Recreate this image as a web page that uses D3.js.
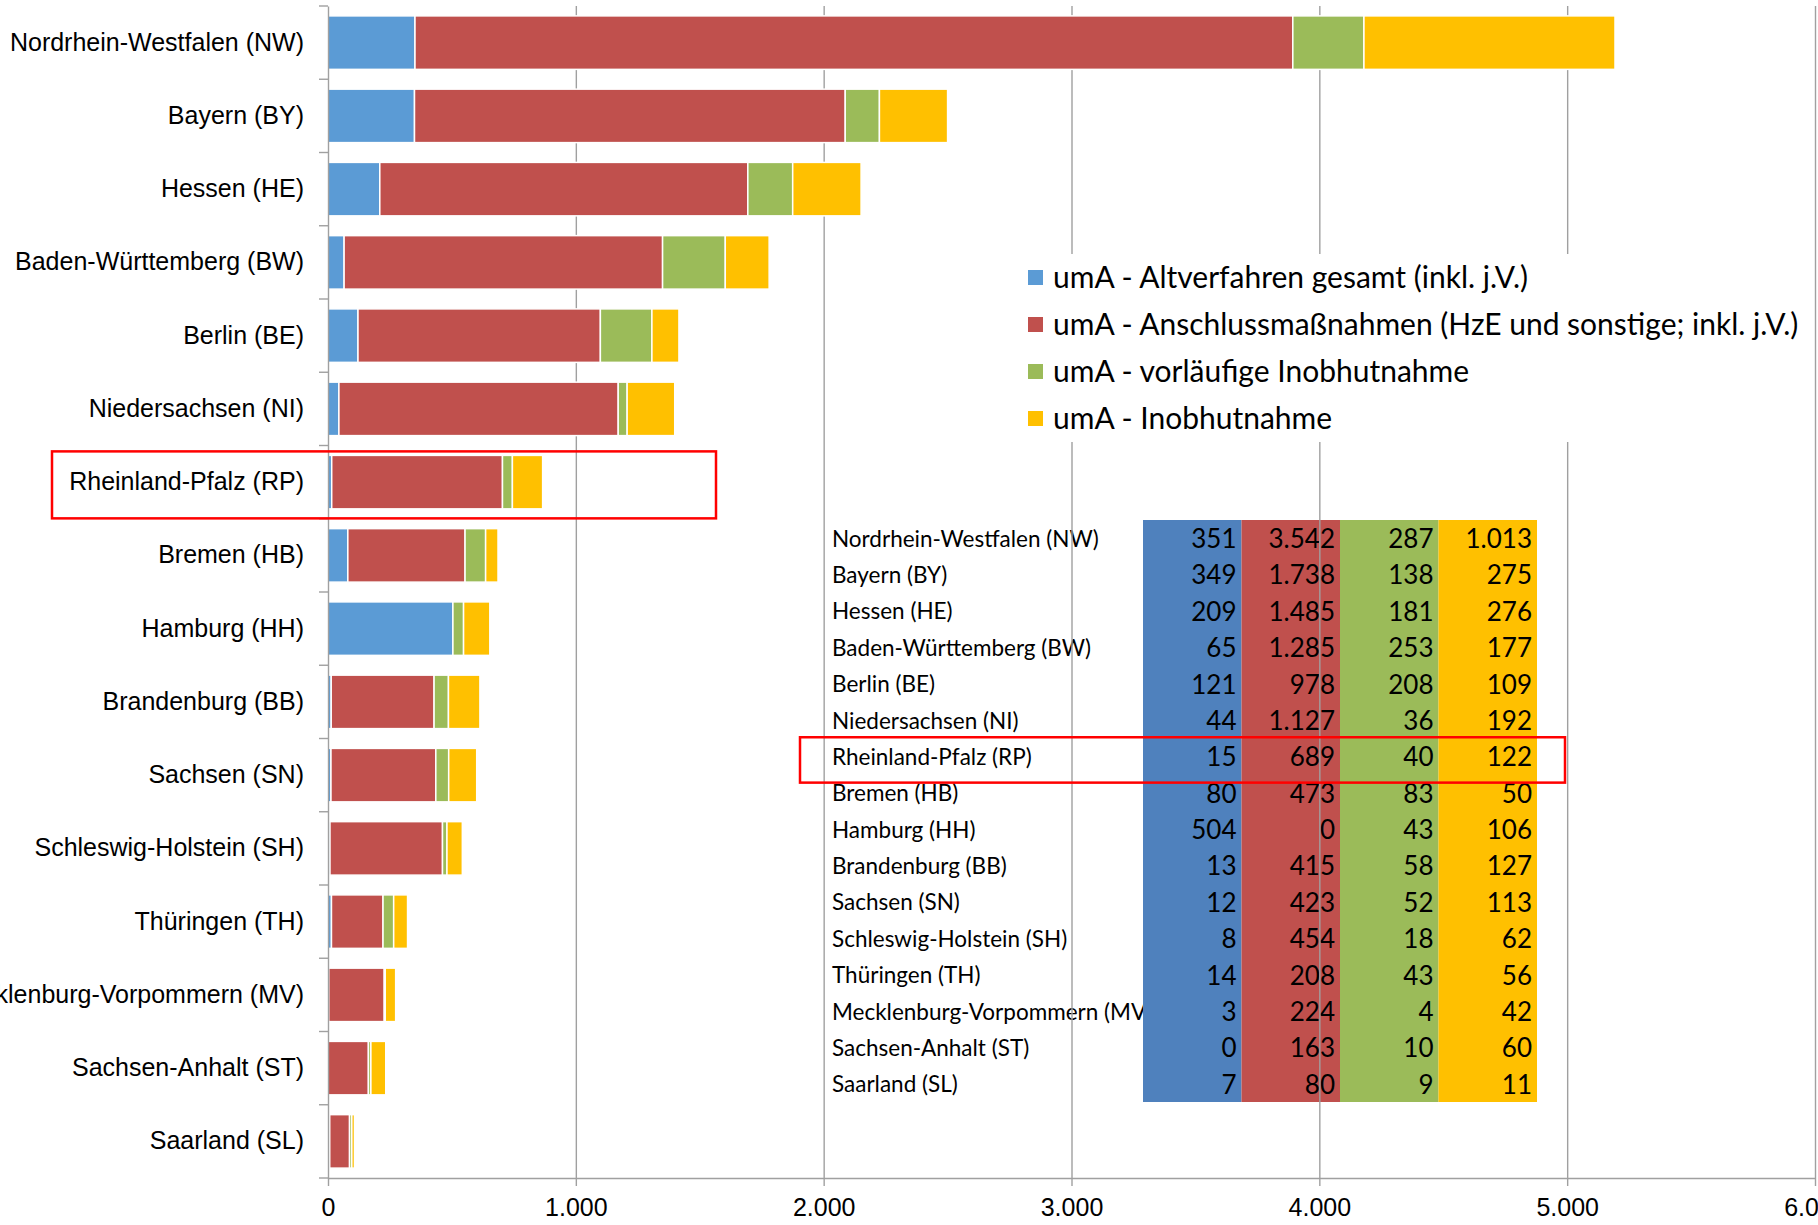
<!DOCTYPE html>
<html>
<head>
<meta charset="utf-8">
<script src="https://cdn.jsdelivr.net/npm/d3@7"></script>
<style>
  body { margin: 0; background: #fff; }
  svg { display: block; font-family: Lato, sans-serif; }
</style>
</head>
<body>
<svg></svg>
<script>
const categories = [
    "Nordrhein-Westfalen (NW)", "Bayern (BY)", "Hessen (HE)", "Baden-Württemberg (BW)",
    "Berlin (BE)", "Niedersachsen (NI)", "Rheinland-Pfalz (RP)", "Bremen (HB)",
    "Hamburg (HH)", "Brandenburg (BB)", "Sachsen (SN)", "Schleswig-Holstein (SH)",
    "Thüringen (TH)", "Mecklenburg-Vorpommern (MV)", "Sachsen-Anhalt (ST)", "Saarland (SL)"
];
const seriesNames = [
    "umA - Altverfahren gesamt (inkl. j.V.)",
    "umA - Anschlussmaßnahmen (HzE und sonstige; inkl. j.V.)",
    "umA - vorläufige Inobhutnahme",
    "umA - Inobhutnahme"
];
const altverfahren = [351, 349, 209, 65, 121, 44, 15, 80, 504, 13, 12, 8, 14, 3, 0, 7];
const anschluss = [3542, 1738, 1485, 1285, 978, 1127, 689, 473, 0, 415, 423, 454, 208, 224, 163, 80];
const vorlaeufig = [287, 138, 181, 253, 208, 36, 40, 83, 43, 58, 52, 18, 43, 4, 10, 9];
const inobhut = [1013, 275, 276, 177, 109, 192, 122, 50, 106, 127, 113, 62, 56, 42, 60, 11];
const xTicks = [0, 1000, 2000, 3000, 4000, 5000, 6000];
const highlighted = "Rheinland-Pfalz (RP)";

const seriesValues = [altverfahren, anschluss, vorlaeufig, inobhut];
const rows = categories.map((name, i) => {
    const row = { name: name };
    seriesNames.forEach((s, j) => { row[s] = seriesValues[j][i]; });
    return row;
});

const de = d3.formatLocale({ decimal: ",", thousands: ".", grouping: [3], currency: ["", " €"] });
const fmt = de.format(",d");

function drawChart() {
    const width = 1818;
    const height = 1225;
    const top = 6, bottom = 1178, left = 328, right = 1815;

    const svg = d3.select('svg')
        .attr('width', width)
        .attr('height', height);

    const x = d3.scaleLinear().domain([0, 6000]).range([left, right]);
    const y = d3.scaleBand().domain(categories).range([top, bottom])
        .paddingInner(0.27).paddingOuter(0.135);

    const color = d3.scaleOrdinal().domain(seriesNames)
        .range(['#5B9BD5', '#C0504D', '#9BBB59', '#FFC000']);
    const tableColor = d3.scaleOrdinal().domain(seriesNames)
        .range(['#4F81BD', '#C0504D', '#9BBB59', '#FFC000']);

    // embedded data table (sits under the gridlines)
    const rowY = d3.scaleBand().domain(categories).range([520, 1102]);
    const colX = d3.scaleBand().domain(seriesNames).range([1143, 1537]);
    const table = svg.append('g');

    table.selectAll('text.rowlabel')
        .data(rows)
        .enter()
        .append('text')
        .attr('class', 'rowlabel')
        .attr('x', 832)
        .attr('y', d => rowY(d.name) + rowY.bandwidth() / 2)
        .attr('dy', '0.38em')
        .style('font-size', '22.5px')
        .text(d => d.name);

    table.selectAll('rect')
        .data(seriesNames)
        .enter()
        .append('rect')
        .attr('x', s => colX(s))
        .attr('y', rowY.range()[0])
        .attr('width', colX.bandwidth())
        .attr('height', rowY.range()[1] - rowY.range()[0])
        .attr('fill', s => tableColor(s));

    seriesNames.forEach(s => {
        table.append('g').selectAll('text')
            .data(rows)
            .enter()
            .append('text')
            .attr('x', colX(s) + colX.bandwidth() - 5)
            .attr('y', d => rowY(d.name) + rowY.bandwidth() / 2)
            .attr('dy', '0.38em')
            .attr('text-anchor', 'end')
            .style('font-size', '26px')
            .text(d => fmt(d[s]));
    });

    // gridlines
    svg.append('g')
        .attr('class', 'grid')
        .attr('transform', `translate(0, ${bottom})`)
        .call(d3.axisBottom(x)
            .tickValues(xTicks.slice(1))
            .tickSize(-(bottom - top))
            .tickFormat(''))
        .call(g => g.select('.domain').remove());

    // stacked bars
    const stacked = d3.stack().keys(seriesNames)(rows);
    svg.append('g')
        .selectAll('g')
        .data(stacked)
        .enter()
        .append('g')
        .attr('fill', d => color(d.key))
        .selectAll('rect')
        .data(d => d)
        .enter()
        .append('rect')
        .attr('x', d => x(d[0]))
        .attr('y', d => y(d.data.name))
        .attr('width', d => x(d[1]) - x(d[0]))
        .attr('height', y.bandwidth())
        .attr('stroke', '#fff')
        .attr('stroke-width', 1.5);

    // x axis
    const xAxis = svg.append('g')
        .attr('transform', `translate(0, ${bottom})`)
        .call(d3.axisBottom(x)
            .tickValues(xTicks)
            .tickSize(8)
            .tickSizeOuter(0)
            .tickPadding(12)
            .tickFormat(fmt));
    xAxis.selectAll('text').style('font-size', '25px').attr('fill', '#000');

    // y axis
    const yAxis = svg.append('g')
        .attr('transform', `translate(${left}, 0)`)
        .call(d3.axisLeft(y).tickSize(0).tickSizeOuter(0).tickPadding(24));
    yAxis.selectAll('text').style('font-size', '25px').attr('fill', '#000');

    const gap = (y.step() - y.bandwidth()) / 2;
    const bounds = categories.map(c => y(c) - gap).concat(bottom);
    yAxis.selectAll('line.bound')
        .data(bounds)
        .enter()
        .append('line')
        .attr('class', 'bound')
        .attr('x1', -9)
        .attr('x2', 0)
        .attr('y1', d => d)
        .attr('y2', d => d);

    svg.selectAll('.domain, .tick line, line.bound')
        .attr('stroke', '#a0a0a0')
        .attr('stroke-width', 1.4);

    // legend
    const legendY = d3.scaleBand().domain(seriesNames).range([254, 442]);
    const legend = svg.append('g');
    legend.append('rect')
        .attr('x', 1010)
        .attr('y', legendY.range()[0])
        .attr('width', 795)
        .attr('height', legendY.range()[1] - legendY.range()[0])
        .attr('fill', '#fff');
    const item = legend.selectAll('g')
        .data(seriesNames)
        .enter()
        .append('g')
        .attr('transform', s => `translate(1028, ${legendY(s) + legendY.bandwidth() / 2})`);
    item.append('rect')
        .attr('x', 0)
        .attr('y', -7.5)
        .attr('width', 15)
        .attr('height', 15)
        .attr('fill', s => color(s));
    item.append('text')
        .attr('x', 25)
        .attr('dy', '0.36em')
        .style('font-size', '30px')
        .text(s => s);

    // highlight boxes
    svg.append('rect')
        .attr('x', 52)
        .attr('y', y(highlighted) - 4)
        .attr('width', 664)
        .attr('height', y.bandwidth() + 13.5)
        .attr('fill', 'none')
        .attr('stroke', '#ff0000')
        .attr('stroke-width', 2.5);
    svg.append('rect')
        .attr('x', 800)
        .attr('y', rowY(highlighted) - 1)
        .attr('width', 765)
        .attr('height', rowY.bandwidth() + 9)
        .attr('fill', 'none')
        .attr('stroke', '#ff0000')
        .attr('stroke-width', 2.5);
}

drawChart();
</script>
</body>
</html>
